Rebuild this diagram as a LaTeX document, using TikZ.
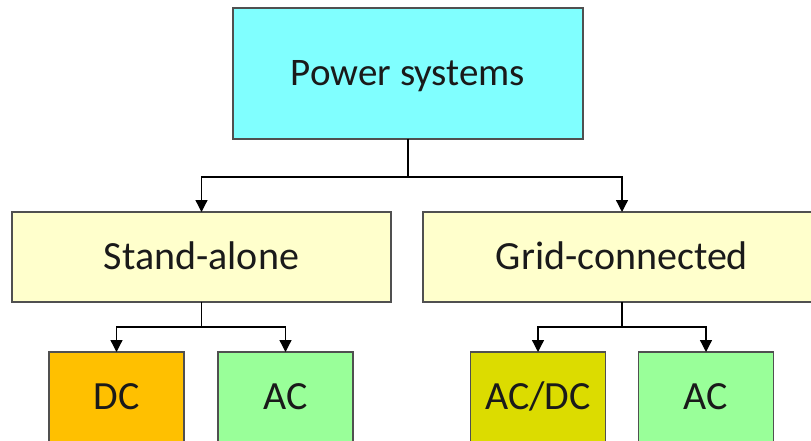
\documentclass[tikz,border=0pt]{standalone}
\usepackage{fontspec}
\setmainfont{Carlito}
\usetikzlibrary{arrows.meta}
\definecolor{topcyan}{HTML}{80FFFF}
\definecolor{midyellow}{HTML}{FFFFCC}
\definecolor{dcorange}{HTML}{FFC000}
\definecolor{acgreen}{HTML}{99FF99}
\definecolor{acdcolive}{HTML}{DCDC00}
\definecolor{bordergray}{HTML}{505050}
\definecolor{textgray}{HTML}{1A1A1A}
\tikzset{
  box/.style={draw=bordergray, line width=1.3pt, rectangle, inner sep=0pt, outer sep=0pt, text=textgray},
  topbox/.style={box, anchor=north, fill=topcyan, minimum width=350pt, text height=78pt, text depth=53pt, font=\fontsize{39}{44}\selectfont},
  midbox/.style={box, anchor=north, fill=midyellow, text height=57pt, text depth=33pt, font=\fontsize{40}{44}\selectfont},
  leafbox/.style={box, anchor=north, minimum width=135pt, text height=57pt, text depth=50pt, font=\fontsize{40}{44}\selectfont},
  conn/.style={line width=1.3pt, black},
  arr/.style={conn, -{Triangle[length=12pt,width=12pt]}}
}
\begin{document}
\begin{tikzpicture}[x=1pt,y=-1pt]
\useasboundingbox (0,0) rectangle (811,441);
\clip (0,0) rectangle (811,441);
\fill[white] (0,0) rectangle (811,441);
\node[topbox] (top) at (408,8) {Power systems};
\node[midbox, minimum width=379pt] (sa) at (201.5,212) {Stand-alone};
\node[midbox, minimum width=398pt] (gc) at (622,212) {Grid-connected};
\node[leafbox, fill=dcorange] (dc1) at (116.5,352) {DC};
\node[leafbox, fill=acgreen] (ac1) at (285.5,352) {AC};
\node[leafbox, fill=acdcolive] (acdc) at (538,352) {AC/DC};
\node[leafbox, fill=acgreen] (ac2) at (706,352) {AC};
\coordinate (j1) at (408,177);
\coordinate (j2) at (201.5,327);
\coordinate (j3) at (622,327);
\draw[conn] (top.south) -- (j1);
\draw[arr] (j1) -| (sa.north);
\draw[arr] (j1) -| (gc.north);
\draw[conn] (sa.south) -- (j2);
\draw[arr] (j2) -| (dc1.north);
\draw[arr] (j2) -| (ac1.north);
\draw[conn] (gc.south) -- (j3);
\draw[arr] (j3) -| (acdc.north);
\draw[arr] (j3) -| (ac2.north);
\end{tikzpicture}
\end{document}
